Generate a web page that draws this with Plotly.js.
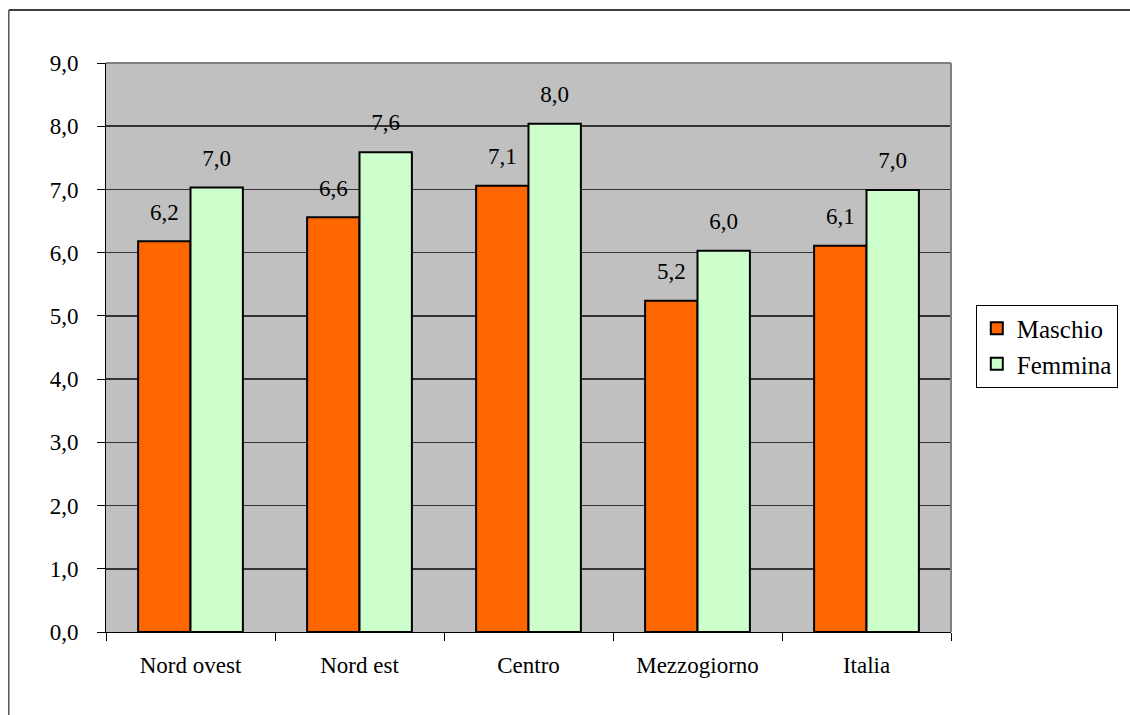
<!DOCTYPE html>
<html>
<head>
<meta charset="utf-8">
<script src="https://cdn.plot.ly/plotly-3.0.1.min.js"></script>
<style>
html,body{margin:0;padding:0;background:#fff;}
#chart{width:1130px;height:715px;}
</style>
</head>
<body>
<div id="chart"></div>
<script>
var categories = ["Nord ovest", "Nord est", "Centro", "Mezzogiorno", "Italia"];
var maschio = [6.18, 6.56, 7.06, 5.24, 6.11];
var femmina = [7.03, 7.59, 8.04, 6.03, 6.99];
var yTicks = [0, 1, 2, 3, 4, 5, 6, 7, 8, 9];

var FONT = "Liberation Serif";

function barTrace(name, vals, color, grp) {
  return {
    type: "bar", name: name, x: categories, y: vals, offsetgroup: grp,
    marker: {color: color, line: {color: "#000000", width: 2}}
  };
}
function labelTrace(vals, grp) {
  return {
    type: "scatter", mode: "markers+text", x: categories, y: vals, offsetgroup: grp,
    texttemplate: "%{y:.1f}", textposition: "top center", cliponaxis: false,
    marker: {size: 24, color: "rgba(0,0,0,0)"},
    textfont: {family: FONT, size: 23, color: "#000"},
    showlegend: false, hoverinfo: "skip"
  };
}

var traces = [
  barTrace("Maschio", maschio, "#FF6600", "m"),
  barTrace("Femmina", femmina, "#CCFFCC", "f"),
  labelTrace(maschio, "m"),
  labelTrace(femmina, "f")
];

var L = 106, R = 958, T = 63, B = 632, W = 1130, H = 715;
var pw = R - L, ph = B - T;
function px(x){ return (x - L) / pw; }
function py(y){ return (B - y) / ph; }

var layout = {
  width: W, height: H,
  margin: {l: L, r: W - R, t: T, b: H - B, pad: 0},
  paper_bgcolor: "#FFFFFF",
  plot_bgcolor: "#C0C0C0",
  separators: ",.",
  font: {family: FONT, size: 23, color: "#000"},
  barmode: "group",
  scattermode: "group",
  bargap: 0.38,
  scattergap: 0.38,
  bargroupgap: 0,
  showlegend: true,
  legend: {
    x: px(983), y: py(346), xanchor: "left", yanchor: "middle",
    bgcolor: "#FFFFFF", bordercolor: "#000000", borderwidth: 1,
    font: {family: FONT, size: 25, color: "#000"},
    itemwidth: 30
  },
  xaxis: {
    type: "category",
    showgrid: false,
    showline: true, linecolor: "#000", linewidth: 1,
    ticks: "outside", tickson: "boundaries", ticklen: 8, tickcolor: "#000", tickwidth: 1,
    ticklabelstandoff: 12,
    tickfont: {family: FONT, size: 23, color: "#000"},
    fixedrange: true
  },
  yaxis: {
    range: [0, 9],
    tickvals: yTicks,
    tickformat: ".1f",
    ticksuffix: "\u00a0\u00a0",
    showgrid: true, gridcolor: "#333333", gridwidth: 1.5,
    showline: true, linecolor: "#000", linewidth: 1,
    ticks: "outside", ticklen: 8, tickcolor: "#000", tickwidth: 1,
    ticklabelstandoff: 14,
    tickfont: {family: FONT, size: 23, color: "#000"},
    zeroline: false,
    fixedrange: true
  },
  shapes: [
    {type: "line", xref: "paper", yref: "paper", x0: 0, x1: 1, y0: 1, y1: 1, line: {color: "#808080", width: 2}},
    {type: "line", xref: "paper", yref: "paper", x0: 1, x1: 1, y0: 0, y1: 1, line: {color: "#808080", width: 2}},
    {type: "line", xref: "paper", yref: "paper", x0: px(8), x1: px(W + 20), y0: py(10), y1: py(10), line: {color: "#000", width: 1.5}},
    {type: "line", xref: "paper", yref: "paper", x0: px(8), x1: px(8), y0: py(10), y1: py(H + 20), line: {color: "#555", width: 1.5}}
  ]
};

Plotly.newPlot("chart", traces, layout, {displayModeBar: false, staticPlot: true});
</script>
</body>
</html>
